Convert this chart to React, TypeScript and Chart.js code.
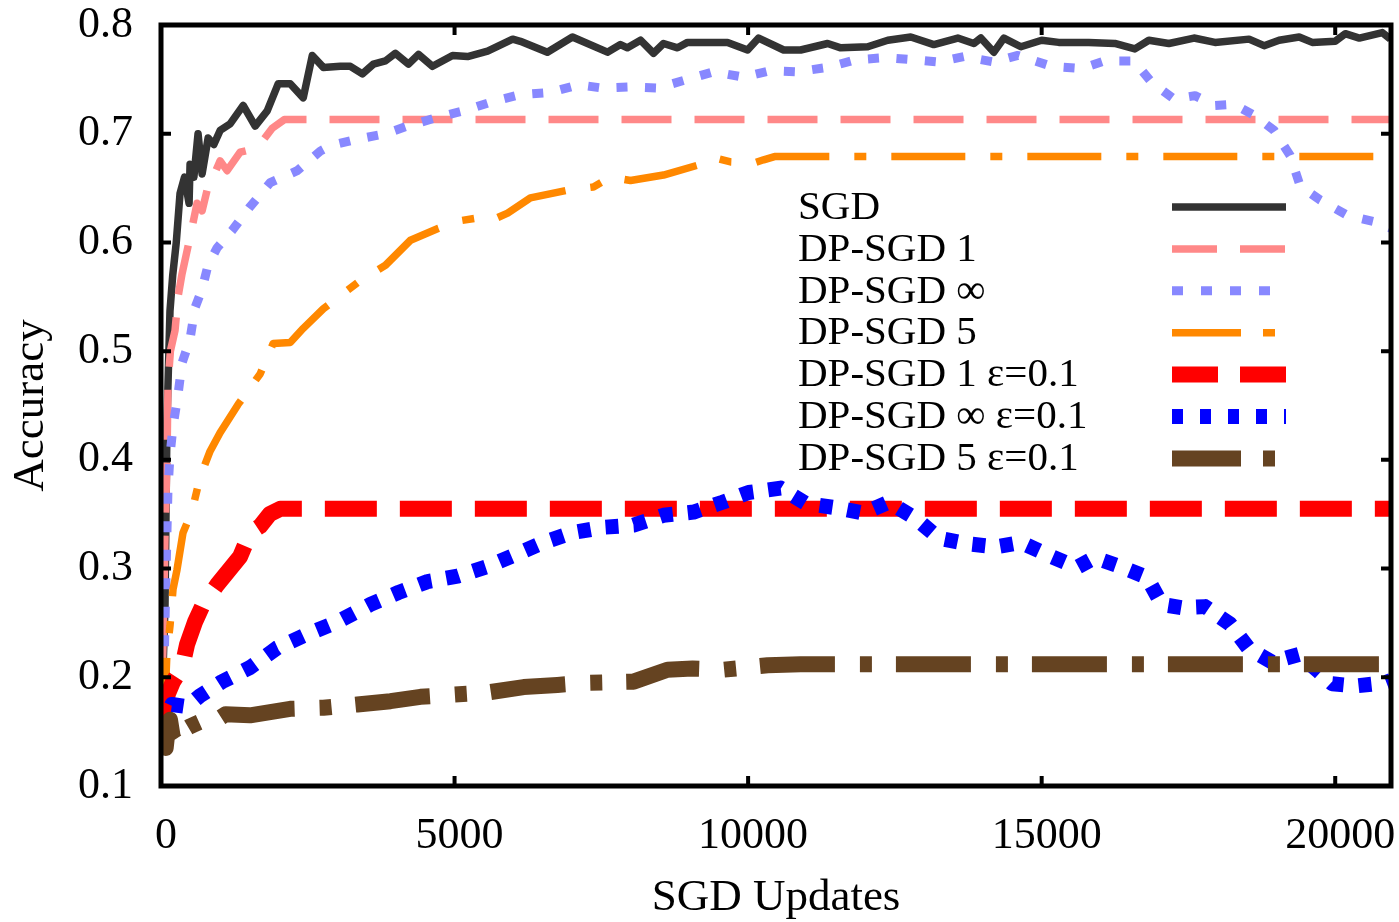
import React, { useEffect, useRef } from 'react';
import { Chart, registerables } from 'chart.js';

Chart.register(...registerables);

const SERIES_NAMES = ['SGD', 'DP-SGD 1', 'DP-SGD ∞', 'DP-SGD 5', 'DP-SGD 1 ε=0.1', 'DP-SGD ∞ ε=0.1', 'DP-SGD 5 ε=0.1'];

const X_TICKS = [0, 5000, 10000, 15000, 20000];
const Y_TICKS = [0.1, 0.2, 0.3, 0.4, 0.5, 0.6, 0.7, 0.8];

const SGD_X = [0, 30, 68, 102, 153, 200, 260, 324, 400, 478, 495, 560, 631, 700, 802, 900, 1007, 1177, 1400, 1604, 1809, 1997, 2201, 2423, 2577, 2765, 3055, 3225, 3430, 3618, 3823, 3993, 4215, 4386, 4625, 4966, 5222, 5563, 5990, 6121, 6581, 7008, 7604, 7826, 7945, 8167, 8389, 8559, 8798, 8968, 9650, 9991, 10179, 10606, 10895, 11355, 11577, 12037, 12379, 12771, 13163, 13572, 13845, 13964, 14186, 14356, 14646, 15000, 15290, 15802, 16246, 16587, 16826, 17167, 17594, 17952, 18532, 18788, 19044, 19386, 19608, 20000, 20171, 20410, 20802, 20939];
const SGD_Y = [0.15, 0.2, 0.265, 0.435, 0.537, 0.57, 0.6, 0.645, 0.66, 0.636, 0.672, 0.66, 0.70, 0.663, 0.696, 0.69, 0.703, 0.709, 0.726, 0.707, 0.721, 0.746, 0.746, 0.733, 0.772, 0.761, 0.762, 0.762, 0.755, 0.764, 0.767, 0.774, 0.764, 0.773, 0.762, 0.772, 0.771, 0.776, 0.787, 0.785, 0.775, 0.789, 0.775, 0.782, 0.779, 0.786, 0.774, 0.783, 0.779, 0.784, 0.784, 0.777, 0.788, 0.777, 0.777, 0.783, 0.779, 0.780, 0.786, 0.789, 0.782, 0.788, 0.783, 0.788, 0.775, 0.788, 0.780, 0.786, 0.784, 0.784, 0.783, 0.778, 0.786, 0.783, 0.788, 0.784, 0.787, 0.781, 0.786, 0.789, 0.784, 0.785, 0.792, 0.788, 0.793, 0.787];

const DP1_X = [0, 34, 68, 102, 119, 160, 239, 290, 358, 495, 614, 700, 785, 1007, 1126, 1348, 1570, 1740, 1894, 2100, 20950];
const DP1_Y = [0.15, 0.23, 0.33, 0.40, 0.469, 0.50, 0.519, 0.55, 0.571, 0.605, 0.636, 0.629, 0.648, 0.675, 0.666, 0.683, 0.686, 0.694, 0.705, 0.713, 0.713];

const DPINF_X = [0, 50, 68, 102, 119, 153, 205, 290, 358, 494, 580, 699, 801, 955, 1211, 1519, 1860, 2321, 2713, 2884, 3345, 3823, 4198, 4642, 5154, 5614, 6121, 6633, 7110, 7519, 7997, 8457, 8900, 9412, 9923, 10384, 10844, 11355, 11833, 12345, 12822, 13231, 13674, 14186, 14595, 15171, 15683, 16075, 16570, 16877, 17253, 17611, 17952, 18276, 18618, 18959, 19232, 19403, 19744, 20205, 20751, 20950];
const DPINF_Y = [0.15, 0.2, 0.25, 0.335, 0.373, 0.404, 0.431, 0.46, 0.489, 0.511, 0.54, 0.557, 0.579, 0.595, 0.611, 0.633, 0.655, 0.666, 0.684, 0.689, 0.695, 0.70, 0.707, 0.714, 0.721, 0.729, 0.736, 0.738, 0.745, 0.742, 0.743, 0.742, 0.749, 0.757, 0.752, 0.758, 0.757, 0.761, 0.768, 0.77, 0.768, 0.766, 0.771, 0.766, 0.772, 0.762, 0.760, 0.767, 0.767, 0.747, 0.732, 0.735, 0.726, 0.727, 0.717, 0.703, 0.68, 0.652, 0.639, 0.625, 0.618, 0.613];

const DP5_X = [0, 68, 102, 153, 205, 273, 375, 529, 665, 836, 1006, 1313, 1688, 1910, 2201, 2423, 2765, 3055, 3396, 3823, 4249, 4727, 5102, 5444, 5614, 5904, 6292, 6922, 7366, 7656, 7997, 8559, 9139, 9412, 9702, 10094, 10264, 10450, 20950];
const DP5_Y = [0.15, 0.179, 0.223, 0.247, 0.281, 0.299, 0.333, 0.353, 0.384, 0.408, 0.425, 0.451, 0.479, 0.507, 0.508, 0.521, 0.539, 0.551, 0.565, 0.579, 0.602, 0.613, 0.62, 0.623, 0.62, 0.627, 0.641, 0.648, 0.651, 0.66, 0.657, 0.662, 0.671, 0.678, 0.674, 0.673, 0.676, 0.679, 0.679];

const DP1E_X = [0, 17, 119, 205, 358, 443, 580, 716, 955, 1347, 1519, 1688, 1850, 2030, 20950];
const DP1E_Y = [0.155, 0.161, 0.185, 0.196, 0.209, 0.23, 0.251, 0.267, 0.285, 0.311, 0.333, 0.339, 0.35, 0.355, 0.355];

const DPINFE_X = [0, 68, 187, 443, 665, 1040, 1517, 1978, 2423, 3003, 3567, 4044, 4539, 5051, 5563, 6002, 6513, 7008, 7536, 8048, 8559, 9071, 9565, 10009, 10554, 10980, 11492, 11969, 12396, 12856, 13248, 13709, 14220, 14646, 15171, 15597, 15904, 16331, 16792, 17048, 17389, 17782, 18208, 18532, 18925, 19386, 19727, 19949, 20341, 20853, 20950];
const DPINFE_Y = [0.15, 0.161, 0.175, 0.173, 0.183, 0.196, 0.209, 0.227, 0.238, 0.251, 0.267, 0.278, 0.288, 0.293, 0.302, 0.312, 0.324, 0.333, 0.338, 0.34, 0.349, 0.352, 0.361, 0.370, 0.374, 0.36, 0.356, 0.351, 0.361, 0.346, 0.328, 0.323, 0.32, 0.324, 0.311, 0.301, 0.31, 0.302, 0.292, 0.267, 0.264, 0.265, 0.249, 0.226, 0.214, 0.221, 0.205, 0.194, 0.192, 0.195, 0.197];

const DP5E_X = [0, 30, 80, 120, 153, 200, 273, 375, 500, 665, 800, 955, 1100, 1517, 2201, 2765, 3345, 3908, 4420, 4983, 5563, 6177, 6752, 7281, 8048, 8627, 9054, 9582, 10333, 10895, 20950];
const DP5E_Y = [0.14, 0.149, 0.135, 0.155, 0.161, 0.145, 0.139, 0.151, 0.155, 0.159, 0.157, 0.161, 0.166, 0.165, 0.171, 0.172, 0.175, 0.178, 0.182, 0.184, 0.186, 0.191, 0.193, 0.195, 0.196, 0.207, 0.208, 0.207, 0.211, 0.212, 0.212];

const SERIES_X = [SGD_X, DP1_X, DPINF_X, DP5_X, DP1E_X, DPINFE_X, DP5E_X];
const SERIES_Y = [SGD_Y, DP1_Y, DPINF_Y, DP5_Y, DP1E_Y, DPINFE_Y, DP5E_Y];

const COLORS = ['#333333', '#ff8888', '#8888ff', '#ff8800', '#ff0000', '#0000ff', '#654321'];
const WIDTHS = [7.5, 7.5, 9, 7.5, 16, 15, 16];
const DASHES: number[][] = [[], [50, 23], [11, 17.5], [74, 25, 12, 25], [52, 23], [13, 15], [75, 25, 12, 24]];
const LEGEND_DASHES: number[][] = [[], [45, 23], [11, 18], [69, 22, 12, 40], [46, 22], [11, 17], [69, 22, 12, 40]];

const SERIF = '"Liberation Serif", "DejaVu Serif", serif';

function zip(xs: number[], ys: number[]) {
  const n = Math.min(xs.length, ys.length);
  const out: { x: number; y: number }[] = [];
  for (let i = 0; i < n; i++) out.push({ x: xs[i], y: ys[i] });
  return out;
}

function noPad(scale: any) {
  scale.paddingTop = 0;
  scale.paddingBottom = 0;
  scale.paddingLeft = 0;
  scale.paddingRight = 0;
}

const framePlugin = {
  id: 'frameTicks',
  afterDatasetsDraw(chart: any) {
    const { ctx, chartArea: a, scales } = chart;
    ctx.save();
    ctx.strokeStyle = '#000';
    ctx.lineWidth = 4;
    const len = 10;
    for (const v of Y_TICKS) {
      const y = scales.y.getPixelForValue(v);
      ctx.beginPath();
      ctx.moveTo(a.left, y); ctx.lineTo(a.left + len, y);
      ctx.moveTo(a.right, y); ctx.lineTo(a.right - len, y);
      ctx.stroke();
    }
    for (const v of X_TICKS) {
      const x = scales.x.getPixelForValue(v);
      ctx.beginPath();
      ctx.moveTo(x, a.bottom); ctx.lineTo(x, a.bottom - len);
      ctx.moveTo(x, a.top); ctx.lineTo(x, a.top + len);
      ctx.stroke();
    }
    ctx.lineWidth = 5;
    ctx.strokeRect(a.left, a.top, a.right - a.left, a.bottom - a.top);
    ctx.restore();
  },
};

const legendPlugin = {
  id: 'customLegend',
  afterDraw(chart: any) {
    const { ctx } = chart;
    ctx.save();
    const textX = 798;
    const x0 = 1172;
    const x1 = 1286;
    const y0 = 207;
    const dy = 41.9;
    ctx.font = `41px ${SERIF}`;
    ctx.textBaseline = 'middle';
    ctx.textAlign = 'left';
    SERIES_NAMES.forEach((name, i) => {
      const y = y0 + i * dy;
      ctx.fillStyle = '#000';
      ctx.fillText(name, textX, y + 1);
      ctx.strokeStyle = COLORS[i];
      ctx.lineWidth = WIDTHS[i];
      ctx.lineCap = 'butt';
      ctx.setLineDash(LEGEND_DASHES[i]);
      ctx.beginPath();
      ctx.moveTo(x0, y);
      ctx.lineTo(x1, y);
      ctx.stroke();
    });
    ctx.restore();
  },
};

export default function App() {
  const ref = useRef<HTMLCanvasElement>(null);
  useEffect(() => {
    const canvas = ref.current;
    if (!canvas) return;
    const datasets = SERIES_NAMES.map((name, i) => ({
      label: name,
      data: zip(SERIES_X[i], SERIES_Y[i]),
      borderColor: COLORS[i],
      backgroundColor: COLORS[i],
      borderWidth: WIDTHS[i],
      borderDash: DASHES[i],
      borderCapStyle: 'butt' as const,
      borderJoinStyle: 'round' as const,
      pointRadius: 0,
      pointHoverRadius: 0,
      tension: 0,
      fill: false,
      order: SERIES_NAMES.length - 1 - i,
    }));
    const chart = new Chart(canvas, {
      type: 'line',
      data: { datasets },
      options: {
        animation: false,
        responsive: false,
        devicePixelRatio: 1,
        events: [],
        layout: { padding: { top: 25, right: 8, left: 0, bottom: 0 } },
        plugins: {
          legend: { display: false },
          tooltip: { enabled: false },
        },
        scales: {
          x: {
            type: 'linear',
            min: 0,
            max: 20950,
            grid: { display: false, drawTicks: false },
            border: { display: false },
            afterBuildTicks: (scale: any) => {
              scale.ticks = X_TICKS.map((v) => ({ value: v }));
            },
            afterFit: (scale: any) => {
              scale.height = 136;
              noPad(scale);
            },
            ticks: {
              color: '#000',
              font: { family: SERIF, size: 44 },
              padding: 24,
              labelOffset: 5,
              maxRotation: 0,
              autoSkip: false,
              callback: (v: any) => String(v),
            },
            title: {
              display: true,
              text: 'SGD Updates',
              color: '#000',
              font: { family: SERIF, size: 45, lineHeight: 1.05 },
              padding: { top: 0, bottom: 0 },
            },
          },
          y: {
            type: 'linear',
            min: 0.1,
            max: 0.8,
            grid: { display: false, drawTicks: false },
            border: { display: false },
            afterBuildTicks: (scale: any) => {
              scale.ticks = Y_TICKS.map((v) => ({ value: v }));
            },
            afterFit: (scale: any) => {
              scale.width = 161;
              noPad(scale);
            },
            ticks: {
              color: '#000',
              font: { family: SERIF, size: 44 },
              padding: 28,
              autoSkip: false,
              callback: (v: any) => Number(v).toFixed(1),
            },
            title: {
              display: true,
              text: 'Accuracy',
              color: '#000',
              font: { family: SERIF, size: 45 },
              padding: { top: 4, bottom: 0 },
            },
          },
        },
      },
      plugins: [framePlugin, legendPlugin],
    });
    return () => chart.destroy();
  }, []);
  return (
    <div style={{ position: 'absolute', left: 0, top: 0, width: 1399, height: 922, background: '#fff' }}>
      <canvas ref={ref} width={1399} height={922} style={{ display: 'block' }} />
    </div>
  );
}
